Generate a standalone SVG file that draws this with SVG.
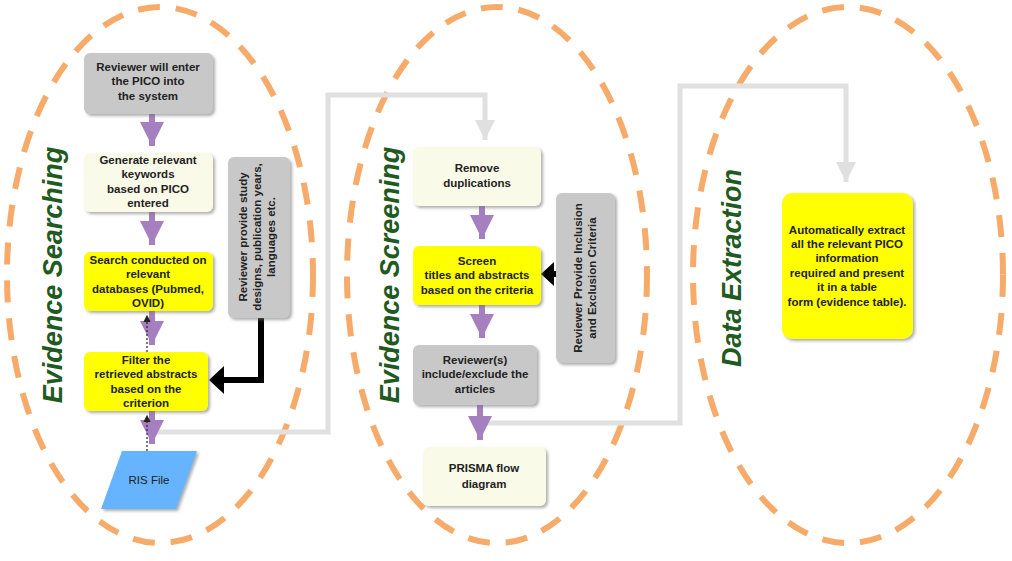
<svg xmlns="http://www.w3.org/2000/svg" width="1012" height="561" viewBox="0 0 1012 561">
<defs>
<style>
.ell{fill:none;stroke:#f7ab6a;stroke-width:6;stroke-dasharray:22 16}
.bx{stroke:none;filter:url(#sh)}
.t{font-family:"Liberation Sans",Arial,sans-serif;font-size:11.5px;font-weight:bold;fill:#222;text-anchor:middle}
.ttl{font-family:"Liberation Sans",Arial,sans-serif;font-size:27px;font-weight:bold;font-style:italic;fill:#1f5a1f;text-anchor:middle}
.pa{stroke:#a57fc0;stroke-width:6;fill:none}
.gc{stroke:#e0e0e0;stroke-width:5;fill:none}
</style>
<filter id="sh" x="-10%" y="-10%" width="130%" height="130%"><feDropShadow dx="2" dy="2" stdDeviation="1.5" flood-color="#777" flood-opacity="0.6"/></filter>
<marker id="pm" markerWidth="5" markerHeight="4" refX="4" refY="2" orient="auto" markerUnits="strokeWidth"><path d="M0,0L4,2L0,4Z" fill="#a57fc0"/></marker>
<marker id="gm" markerWidth="5" markerHeight="4" refX="4" refY="2" orient="auto" markerUnits="strokeWidth"><path d="M0,0L4,2L0,4Z" fill="#e0e0e0"/></marker>
<marker id="dm" markerWidth="6" markerHeight="6" refX="5" refY="3" orient="auto"><path d="M0,0L6,3L0,6Z" fill="#222"/></marker>
</defs>
<ellipse class="ell" cx="160" cy="275" rx="153" ry="268"/>
<ellipse class="ell" cx="497" cy="275" rx="150" ry="268"/>
<ellipse class="ell" cx="848" cy="275" rx="155" ry="268"/>
<text class="ttl" transform="translate(62,275) rotate(-90)">Evidence Searching</text>
<text class="ttl" transform="translate(399,275) rotate(-90)">Evidence Screening</text>
<text class="ttl" transform="translate(741,268) rotate(-90)">Data Extraction</text>
<g id="connectors">
<path class="gc" d="M157,432H328V95H485V140" marker-end="url(#gm)"/>
<path class="gc" d="M485,423H680V86H846V182" marker-end="url(#gm)"/>
<path class="pa" d="M152,114V146" marker-end="url(#pm)"/>
<path class="pa" d="M152,212V245" marker-end="url(#pm)"/>
<path class="pa" d="M152,311V345" marker-end="url(#pm)"/>
<path class="pa" d="M152,411V444" marker-end="url(#pm)"/>
<path d="M147,352V316" stroke="#222" stroke-width="1.2" stroke-dasharray="2 2" marker-end="url(#dm)"/>
<path d="M147,451V416" stroke="#222" stroke-width="1.2" stroke-dasharray="2 2" marker-end="url(#dm)"/>
<path class="pa" d="M482,206V239" marker-end="url(#pm)"/>
<path class="pa" d="M482,305V338" marker-end="url(#pm)"/>
<path class="pa" d="M480,405V440" marker-end="url(#pm)"/>
<path d="M261,318V380H222" stroke="#000" stroke-width="6" fill="none"/>
<path d="M224,366L209,380L224,394Z" fill="#000"/>
<path d="M556,274H552" stroke="#000" stroke-width="6"/>
<path d="M554,262L541,274L554,286Z" fill="#000"/>
</g>
<g id="n1"><rect class="bx" x="84" y="53" width="129" height="61" rx="6" fill="#c8c8c8"/><text class="t" x="148" y="71">Reviewer will enter</text><text class="t" x="148" y="85">the PICO into</text><text class="t" x="148" y="100">the system</text></g>
<g id="n2"><rect class="bx" x="84" y="153" width="129" height="59" rx="6" fill="#fafae8"/><text class="t" x="148" y="164">Generate relevant</text><text class="t" x="148" y="178">keywords</text><text class="t" x="148" y="193">based on PICO</text><text class="t" x="148" y="207">entered</text></g>
<g id="n3"><rect class="bx" x="84" y="252" width="129" height="59" rx="6" fill="#ffff00"/><text class="t" x="148" y="264">Search  conducted on</text><text class="t" x="148" y="278">relevant</text><text class="t" x="148" y="293">databases (Pubmed,</text><text class="t" x="148" y="307">OVID)</text></g>
<g id="n4"><rect class="bx" x="84" y="352" width="124" height="59" rx="6" fill="#ffff00"/><text class="t" x="146" y="364">Filter the</text><text class="t" x="146" y="378">retrieved abstracts</text><text class="t" x="146" y="393">based on the</text><text class="t" x="146" y="407">criterion</text></g>
<g id="n5"><path class="bx" d="M122,451H197L176,509H101Z" fill="#66b3ff"/><text class="t" x="149" y="484" style="font-weight:normal">RIS File</text></g>
<g id="n6"><rect class="bx" x="228" y="157" width="62" height="161" rx="6" fill="#c8c8c8"/><text class="t" transform="translate(247,237) rotate(-90)">Reviewer provide study</text><text class="t" transform="translate(261,237) rotate(-90)">designs, publication years,</text><text class="t" transform="translate(275,237) rotate(-90)">languages etc.</text></g>
<g id="n7"><rect class="bx" x="413" y="147" width="128" height="59" rx="6" fill="#fafae8"/><text class="t" x="477" y="172">Remove</text><text class="t" x="477" y="187">duplications</text></g>
<g id="n8"><rect class="bx" x="413" y="246" width="128" height="59" rx="6" fill="#ffff00"/><text class="t" x="477" y="265">Screen</text><text class="t" x="477" y="279">titles and abstracts</text><text class="t" x="477" y="294">based on the criteria</text></g>
<g id="n9"><rect class="bx" x="413" y="345" width="124" height="60" rx="6" fill="#c8c8c8"/><text class="t" x="475" y="364">Reviewer(s)</text><text class="t" x="475" y="378">include/exclude the</text><text class="t" x="475" y="393">articles</text></g>
<g id="n10"><rect class="bx" x="423" y="447" width="123" height="59" rx="6" fill="#fafae8"/><text class="t" x="484" y="472">PRISMA flow</text><text class="t" x="484" y="488">diagram</text></g>
<g id="n11"><rect class="bx" x="556" y="193" width="59" height="170" rx="6" fill="#c8c8c8"/><text class="t" transform="translate(582,278) rotate(-90)">Reviewer Provide Inclusion</text><text class="t" transform="translate(596,278) rotate(-90)">and Exclusion Criteria</text></g>
<g id="n12"><rect class="bx" x="782" y="193" width="131" height="146" rx="10" fill="#ffff00"/><text class="t" x="847" y="234">Automatically extract</text><text class="t" x="847" y="248">all the relevant PICO</text><text class="t" x="847" y="262">information</text><text class="t" x="847" y="277">required and present</text><text class="t" x="847" y="291">it in a table</text><text class="t" x="847" y="306">form (evidence table).</text></g>
</svg>
